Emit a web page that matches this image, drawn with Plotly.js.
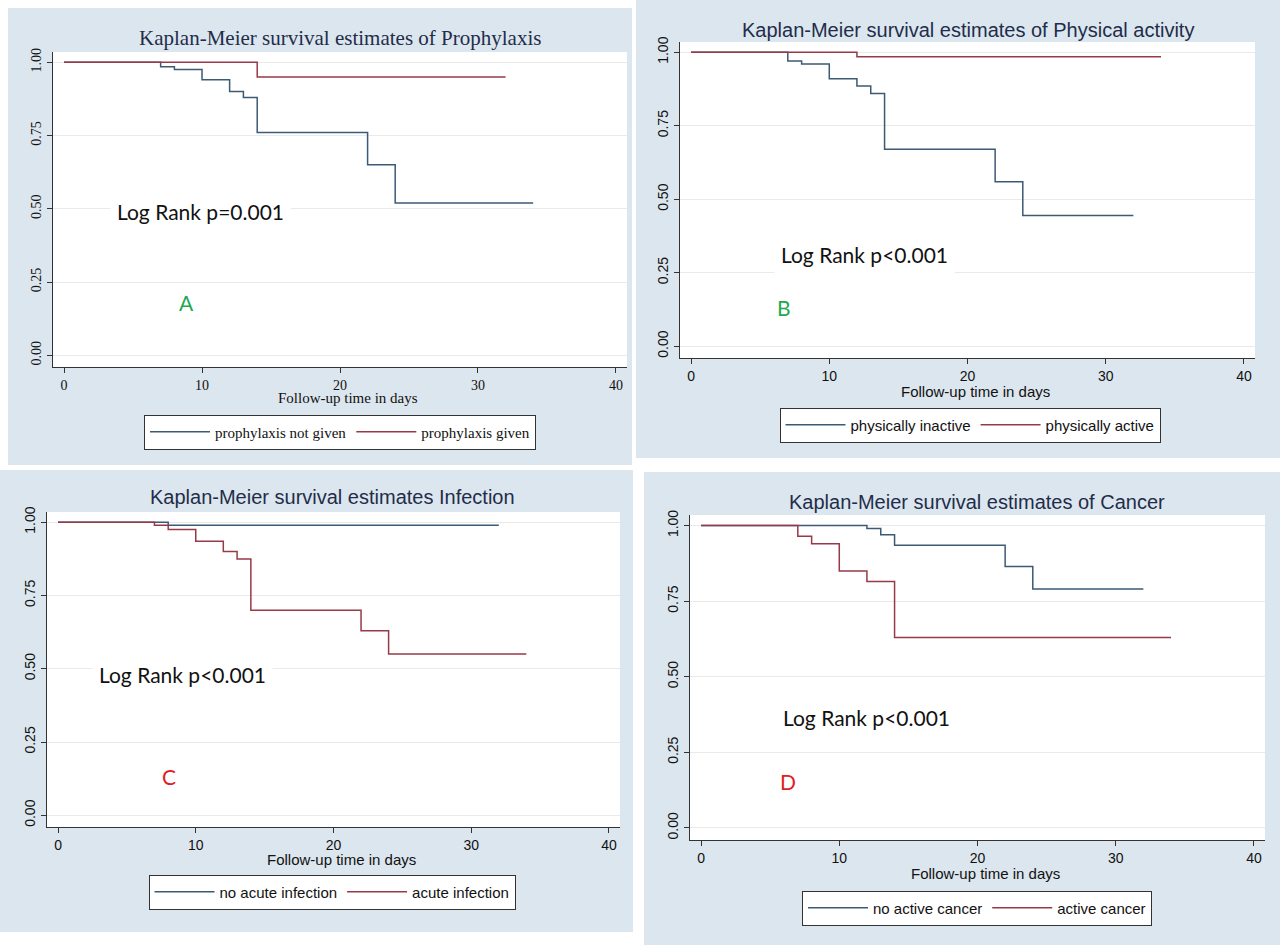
<!DOCTYPE html>
<html><head><meta charset="utf-8">
<script src="https://cdn.plot.ly/plotly-3.0.1.min.js"></script>
<style>body{margin:0}#myDiv{width:1280px;height:945px}</style>
</head><body><div id="myDiv"></div>
<script>
// step curves
var tA1 = [0, 7, 8, 10, 12, 13, 14, 22, 24, 34];
var sA1 = [1, 0.985, 0.975, 0.94, 0.90, 0.88, 0.76, 0.65, 0.52, 0.52];
var tA2 = [0, 14, 32];
var sA2 = [1, 0.95, 0.95];

var tB1 = [0, 7, 8, 10, 12, 13, 14, 22, 24, 32];
var sB1 = [1, 0.97, 0.96, 0.91, 0.885, 0.86, 0.67, 0.56, 0.445, 0.445];
var tB2 = [0, 12, 34];
var sB2 = [1, 0.985, 0.985];

var tC1 = [0, 8, 32];
var sC1 = [1, 0.99, 0.99];
var tC2 = [0, 7, 8, 10, 12, 13, 14, 22, 24, 34];
var sC2 = [1, 0.99, 0.975, 0.935, 0.90, 0.875, 0.70, 0.63, 0.55, 0.55];

var tD1 = [0, 12, 13, 14, 22, 24, 32];
var sD1 = [1, 0.99, 0.97, 0.935, 0.865, 0.79, 0.79];
var tD2 = [0, 7, 8, 10, 12, 14, 34];
var sD2 = [1, 0.965, 0.94, 0.85, 0.815, 0.63, 0.63];

var blue = "#3d5a75", red = "#973a48";
var W = 1280, H = 945;
function px(x) { return x / W; }
function py(y) { return 1 - y / H; }

var panels = [
  {t1: tA1, s1: sA1, t2: tA2, s2: sA2, n1: "prophylaxis not given", n2: "prophylaxis given",
   title: "Kaplan-Meier survival estimates of Prophylaxis", serif: true,
   box: [53, 627, 52, 367], bg: [8, 632, 8, 465], tc: [340, 38], leg: [340, 432],
   lr: "Log Rank p=0.001", lrp: [200, 211], let: "A", letc: "#1fa850", letp: [186, 302], xt: 398},
  {t1: tB1, s1: sB1, t2: tB2, s2: sB2, n1: "physically inactive", n2: "physically active",
   title: "Kaplan-Meier survival estimates of Physical activity", serif: false,
   box: [680, 1255, 42, 358], bg: [636, 1280, 0, 458], tc: [968, 30], leg: [970, 425],
   lr: "Log Rank p<0.001", lrp: [864, 254], let: "B", letc: "#1fa850", letp: [784, 307], xt: 392},
  {t1: tC1, s1: sC1, t2: tC2, s2: sC2, n1: "no acute infection", n2: "acute infection",
   title: "Kaplan-Meier survival estimates Infection", serif: false,
   box: [47, 620, 512, 827], bg: [0, 633, 470, 932], tc: [332, 497], leg: [332, 892],
   lr: "Log Rank p<0.001", lrp: [182, 674], let: "C", letc: "#e02020", letp: [169, 776], xt: 859},
  {t1: tD1, s1: sD1, t2: tD2, s2: sD2, n1: "no active cancer", n2: "active cancer",
   title: "Kaplan-Meier survival estimates of Cancer", serif: false,
   box: [690, 1265, 515, 840], bg: [644, 1280, 472, 945], tc: [977, 502], leg: [977, 908],
   lr: "Log Rank p<0.001", lrp: [866, 717], let: "D", letc: "#e02020", letp: [788, 781], xt: 873}
];

var data = [], shapes = [], annotations = [];
var layout = {width: W, height: H, margin: {l: 0, r: 0, t: 0, b: 0},
  paper_bgcolor: "white", plot_bgcolor: "white", showlegend: true};

function note(text, x, y, font, extra) {
  var a = {text: text, xref: "paper", yref: "paper", x: px(x), y: py(y),
    xanchor: "center", yanchor: "middle", showarrow: false, font: font};
  for (var k in extra) a[k] = extra[k];
  annotations.push(a);
}

panels.forEach(function (p, i) {
  var k = i + 1, sfx = i === 0 ? "" : String(k);
  var fam = p.serif ? "Liberation Serif, serif" : "Liberation Sans, Arial, sans-serif";
  var legName = i === 0 ? "legend" : "legend" + k;
  data.push({x: p.t1, y: p.s1, type: "scatter", mode: "lines", line: {shape: "hv", color: blue, width: 1.5},
    name: p.n1, xaxis: "x" + sfx, yaxis: "y" + sfx, legend: legName});
  data.push({x: p.t2, y: p.s2, type: "scatter", mode: "lines", line: {shape: "hv", color: red, width: 1.5},
    name: p.n2, xaxis: "x" + sfx, yaxis: "y" + sfx, legend: legName});
  layout["xaxis" + sfx] = {domain: [px(p.box[0]), px(p.box[1])], range: [-0.8, 40.8],
    anchor: "y" + sfx, tickvals: [0, 10, 20, 30, 40], showgrid: false, zeroline: false,
    showline: true, linecolor: "#333", ticks: "outside", ticklen: 5, tickcolor: "#333",
    tickfont: {family: fam, size: 14, color: "#111"}};
  layout["yaxis" + sfx] = {domain: [py(p.box[3]), py(p.box[2])], range: [-0.04, 1.035],
    anchor: "x" + sfx, tickvals: [0, 0.25, 0.5, 0.75, 1], tickformat: ".2f", tickangle: -90,
    showgrid: true, gridcolor: "#eaeaea", zeroline: false, showline: true, linecolor: "#333",
    ticks: "outside", ticklen: 5, tickcolor: "#333", tickfont: {family: fam, size: 14, color: "#111"}};
  layout[legName] = {orientation: "h", x: px(p.leg[0]), y: py(p.leg[1]), xanchor: "center", yanchor: "middle",
    xref: "paper", yref: "paper", bgcolor: "white", bordercolor: "#333", borderwidth: 1,
    font: {family: fam, size: 15, color: "#111"}, itemwidth: 60, tracegroupgap: 40};
  shapes.push({type: "rect", xref: "paper", yref: "paper", layer: "below",
    x0: px(p.bg[0]), x1: px(p.bg[1]), y0: py(p.bg[3]), y1: py(p.bg[2]),
    fillcolor: "#dce6ee", line: {width: 0}});
  shapes.push({type: "rect", xref: "paper", yref: "paper", layer: "below",
    x0: px(p.box[0]), x1: px(p.box[1]), y0: py(p.box[3]), y1: py(p.box[2]),
    fillcolor: "white", line: {width: 0}});
  note(p.title, p.tc[0], p.tc[1], {family: fam, size: p.serif ? 21 : 20, color: "#1f2d4a"});
  note("Follow-up time in days", (p.box[0] + p.box[1]) / 2 + 8, p.xt, {family: fam, size: 15, color: "#111"});
  note(p.lr, p.lrp[0], p.lrp[1], {family: "Lato, Carlito, sans-serif", size: 21, color: "#111"},
    {bgcolor: "white", borderpad: 6});
  note(p.let, p.letp[0], p.letp[1], {family: "Lato, Carlito, sans-serif", size: 21, color: p.letc});
});
layout.shapes = shapes;
layout.annotations = annotations;
Plotly.newPlot("myDiv", data, layout, {displayModeBar: false});
</script></body></html>
